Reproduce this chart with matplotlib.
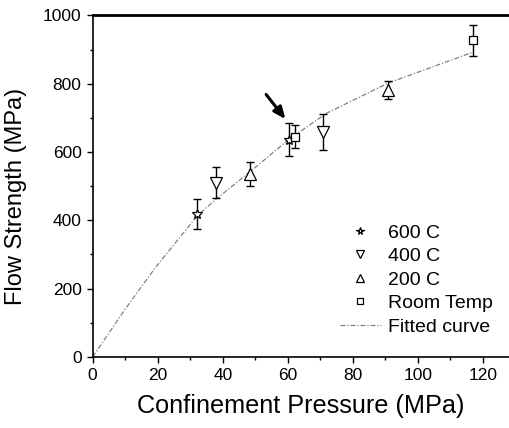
import numpy as np
import matplotlib
matplotlib.use("Agg")
import matplotlib.pyplot as plt

plt.rcParams["font.family"] = ["Liberation Sans", "DejaVu Sans"]

# data
x_600 = [32.2, 60.4]
y_600 = [419, 636]
e_600 = [43, 48]

x_400 = [37.8, 70.9]
y_400 = [510, 658]
e_400 = [45, 53]

x_200 = [48.5, 90.9]
y_200 = [536, 781]
e_200 = [36, 26]

x_room = [62.3, 116.8]
y_room = [645, 927]
e_room = [33, 46]

# fitted curve, points
fit_x = [0, 10, 19, 32.2, 38.2, 48.5, 60.2, 72, 90.9, 116.8]
fit_y = [0, 140, 258, 414, 464, 543, 636, 714, 802, 892]

fig = plt.figure(figsize=(5.09, 4.28), dpi=100)
ax = fig.add_axes([0.182, 0.166, 0.818, 0.798])

fit_line, = ax.plot(fit_x, fit_y, color="0.5", lw=0.9, ls=(0, (4, 1.5, 1, 1.5)),
                    label="Fitted curve", zorder=1)

series = [
    (x_600, y_600, e_600, "*", 7, "600 C"),
    (x_400, y_400, e_400, "v", 8, "400 C"),
    (x_200, y_200, e_200, "^", 8, "200 C"),
    (x_room, y_room, e_room, "s", 6, "Room Temp"),
]
handles = []
for xs, ys, es, mk, ms, lab in series:
    ax.errorbar(xs, ys, yerr=es, fmt="none", ecolor="black", elinewidth=1.0,
                capsize=3, capthick=1.0, zorder=2)
    h, = ax.plot(xs, ys, ls="none", marker=mk, ms=ms, mfc="white", mec="black",
                 mew=0.9, label=lab, zorder=3)
    handles.append(h)
handles.append(fit_line)

# arrow pointing at the 600 C point
ax.annotate("", xy=(59.8, 690), xytext=(52.8, 775),
            arrowprops=dict(arrowstyle="-|>,head_length=0.7,head_width=0.3",
                            color="black", lw=2.2))

ax.set_xlim(0, 128)
ax.set_ylim(0, 1000)
ax.set_xticks(np.arange(0, 121, 20))
ax.set_xticks(np.arange(0, 121, 10), minor=True)
ax.set_yticks(np.arange(0, 1001, 200))
ax.set_yticks(np.arange(0, 1001, 100), minor=True)
ax.tick_params(axis="both", which="major", direction="out", length=4, width=1,
               labelsize=12.5, pad=4)
ax.tick_params(axis="both", which="minor", direction="out", length=2.5, width=1)
ax.tick_params(top=False, right=False)

ax.spines["right"].set_visible(False)
ax.spines["top"].set_linewidth(2)
ax.spines["left"].set_linewidth(1.2)
ax.spines["bottom"].set_linewidth(1.2)

ax.set_xlabel("Confinement Pressure (MPa)", fontsize=18.2, labelpad=8)
ax.set_ylabel("Flow Strength (MPa)", fontsize=17)
ax.yaxis.set_label_coords(-0.158, 0.471)

ax.legend(handles=handles, loc="upper left", bbox_to_anchor=(0.552, 0.44),
          frameon=False, fontsize=14, handlelength=2.1, markerscale=0.8,
          labelspacing=0.3, handletextpad=0.35)

fig.savefig("out.png", dpi=100)
